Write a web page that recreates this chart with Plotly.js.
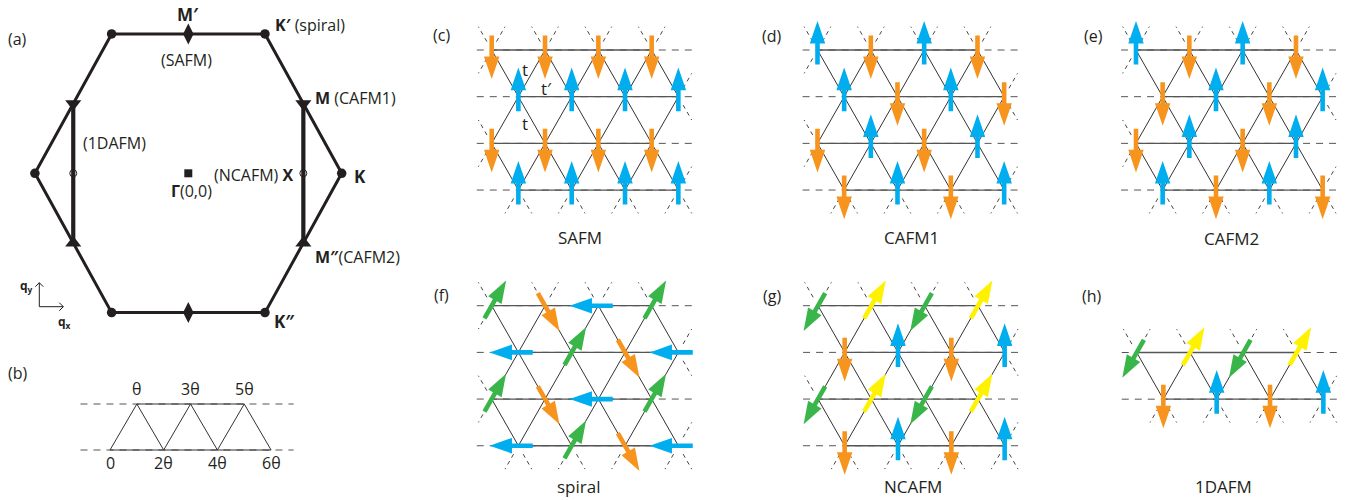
<!DOCTYPE html>
<html>
<head>
<meta charset="utf-8">
<script src="https://cdn.plot.ly/plotly-3.0.1.min.js"></script>
<style>
  html, body { margin: 0; padding: 0; background: #fff; }
  #chart { width: 1354px; height: 500px; }
</style>
</head>
<body>
<div id="chart"></div>
<script>
// ---------- (a) Brillouin zone: high-symmetry points (units of 1/a) ----------
const bzCornerX = [4.189, 2.094, -2.094, -4.189, -2.094, 2.094];   // K, K', ..., K''
const bzCornerY = [0, 3.628, 3.628, 0, -3.628, -3.628];
const bzEdgeMidX = [0, 0];                                          // M' and its partner
const bzEdgeMidY = [3.628, -3.628];
const mPointX = [3.1416, 3.1416, -3.1416, -3.1416];                 // M, M'' and mirror images
const mPointY = [1.814, -1.814, 1.814, -1.814];
const xPointX = [3.1416, -3.1416];                                  // X and mirror image
const xPointY = [0, 0];
const gammaX = [0];
const gammaY = [0];

// ---------- (b) phases along the ladder ----------
const ladderTopPhases = ['θ', '3θ', '5θ'];
const ladderBottomPhases = ['0', '2θ', '4θ', '6θ'];

// ---------- (c)-(h) spin states: one string per row, one letter per site ----------
// U up, D down, L left, N 60° (spiral), S 300° (spiral), Y 60° (yellow), W 240° (green)
const safmRows   = ['DDDD', 'UUUU', 'DDDD', 'UUUU'];
const cafm1Rows  = ['UDUD', 'UDUD', 'DUDU', 'DUDU'];
const cafm2Rows  = ['UDUD', 'DUDU', 'DUDU', 'UDUD'];
const spiralRows = ['NSLN', 'LNSL', 'NSLN', 'LNSL'];
const ncafmRows  = ['WYWY', 'DUDU', 'WYWY', 'DUDU'];
const dafmRows   = ['WYWY', 'DUDU'];

const BLUE = '#00aeef', ORANGE = '#f7941d', GREEN = '#39b54a', YELLOW = '#fff200';
const spinAngle = { U: 90, D: 270, L: 180, N: 60, S: 300, Y: 60, W: 240 };
const spinColor = { U: BLUE, D: ORANGE, L: BLUE, N: GREEN, S: ORANGE, Y: YELLOW, W: GREEN };

// ---------- page geometry ----------
const W = 1354, H = 500;
const FONT = "'Open Sans', 'Noto Sans', sans-serif";
const INK = '#231f20';
const HROW = Math.sqrt(3) / 2;          // row spacing of the triangular lattice (a = 1)
const SX = 53.33, SY = 53.9;            // pixels per lattice constant

const traces = [];
const annotations = [];
const layout = {
  width: W, height: H,
  margin: { l: 0, r: 0, t: 0, b: 0 },
  paper_bgcolor: '#fff', plot_bgcolor: 'rgba(0,0,0,0)',
  showlegend: false,
  annotations: annotations
};

function addAxes(id, ox, oy, sx, sy) {
  const sfx = id === 1 ? '' : String(id);
  layout['xaxis' + sfx] = {
    domain: [0, 1], range: [-ox / sx, (W - ox) / sx], visible: false,
    fixedrange: true, anchor: 'y' + sfx
  };
  layout['yaxis' + sfx] = {
    domain: [0, 1], range: [(oy - H) / sy, oy / sy], visible: false,
    fixedrange: true, anchor: 'x' + sfx
  };
  return { xaxis: 'x' + sfx, yaxis: 'y' + sfx };
}

function paperText(text, x, y, size, opts) {
  annotations.push(Object.assign({
    text: text, x: x / W, y: 1 - y / H, xref: 'paper', yref: 'paper',
    showarrow: false, xanchor: 'center', yanchor: 'middle',
    font: { family: FONT, size: size, color: INK }
  }, opts || {}));
}

function lineTrace(ax, xs, ys, color, width, dash) {
  traces.push({
    type: 'scatter', mode: 'lines', x: xs, y: ys, xaxis: ax.xaxis, yaxis: ax.yaxis,
    line: { color: color, width: width, dash: dash || 'solid' },
    hoverinfo: 'skip', connectgaps: false
  });
}

// ================= (a) Brillouin zone =================
const A_SX = 36.62, A_SY = 38.4;
const axA = addAxes(1, 188.3, 173.3, A_SX, A_SY);
{
  const hx = bzCornerX.concat([bzCornerX[0]]);
  const hy = bzCornerY.concat([bzCornerY[0]]);
  lineTrace(axA, hx, hy, INK, 3);
  // thick lines joining M and M'' on each side
  const vx = [], vy = [];
  for (let k = 0; k < mPointX.length; k += 2) {
    vx.push(mPointX[k], mPointX[k + 1], null);
    vy.push(mPointY[k], mPointY[k + 1], null);
  }
  lineTrace(axA, vx, vy, INK, 4.2);

  const mk = (xs, ys, symbol, size, extra) => traces.push(Object.assign({
    type: 'scatter', mode: 'markers', x: xs, y: ys, xaxis: axA.xaxis, yaxis: axA.yaxis,
    marker: { symbol: symbol, size: size, color: INK }, hoverinfo: 'skip'
  }, extra || {}));
  mk(bzCornerX, bzCornerY, 'circle', 9.5);
  mk(bzEdgeMidX, bzEdgeMidY, 'diamond-tall', 15);
  mk(mPointX.filter((_, i) => mPointY[i] > 0), mPointY.filter(v => v > 0), 'triangle-down', 14);
  mk(mPointX.filter((_, i) => mPointY[i] < 0), mPointY.filter(v => v < 0), 'triangle-up', 14);
  mk(xPointX, xPointY, 'circle-open', 7, { marker: { symbol: 'circle-open', size: 7, color: INK, line: { width: 1, color: INK } } });
  mk(gammaX, gammaY, 'square', 8);

  const lab = (text, x, y, xs, ys, xanchor, size) => annotations.push({
    text: text, x: x, y: y, xref: axA.xaxis, yref: axA.yaxis, showarrow: false,
    xanchor: xanchor || 'center', yanchor: 'middle', xshift: xs, yshift: ys,
    font: { family: FONT, size: size || 16, color: INK }
  });
  lab('<b>M′</b>', bzEdgeMidX[0], bzEdgeMidY[0], 0, 19, 'center', 17);
  lab('(SAFM)', bzEdgeMidX[0], bzEdgeMidY[0], -1.5, -26);
  lab('<b>K′</b> (spiral)', bzCornerX[1], bzCornerY[1], 8, 9, 'left');
  lab('<b>M</b> (CAFM1)', mPointX[0], mPointY[0], 10, 6, 'left');
  lab('<b>M″</b>(CAFM2)', mPointX[1], mPointY[1], 10, -14, 'left');
  lab('<b>K</b>', bzCornerX[0], bzCornerY[0], 10, -3, 'left', 17);
  lab('(NCAFM) <b>X</b>', xPointX[0], xPointY[0], -8, -2, 'right');
  lab('<b>Γ</b>(0,0)', gammaX[0], gammaY[0], -19, -18, 'left');
  lab('(1DAFM)', xPointX[1], xPointY[1], 8, 30, 'left');
  lab('<b>K″</b>', bzCornerX[5], bzCornerY[5], 7, -9, 'left', 17);

  // q_x / q_y reference axes with open arrowheads
  const cx = (39.3 - 188.3) / A_SX, cy = (173.3 - 306.7) / A_SY;
  const len = 24, hd = 4;
  const qx = [cx, cx, null, cx, cx + len / A_SX, null,
              cx - hd / A_SX, cx, cx + hd / A_SX, null,
              cx + (len - hd) / A_SX, cx + len / A_SX, cx + (len - hd) / A_SX];
  const qy = [cy, cy + len / A_SY, null, cy, cy, null,
              cy + (len - hd) / A_SY, cy + len / A_SY, cy + (len - hd) / A_SY, null,
              cy + hd / A_SY, cy, cy - hd / A_SY];
  lineTrace(axA, qx, qy, INK, 1);
  paperText('<b>q<sub>y</sub></b>', 26, 286, 12);
  paperText('<b>q<sub>x</sub></b>', 64, 322, 12);
  paperText('(a)', 17, 39, 16);
}

// ================= (b) ladder with phases =================
{
  const axB = addAxes(2, 110, 450, 53.7, 53.1);
  const nb = ladderBottomPhases.length, nt = ladderTopPhases.length;
  // dashed rails
  lineTrace(axB, [-0.55, 3.42, null, -0.55, 3.42], [0, 0, null, HROW, HROW], '#555', 1, '7px,6px');
  // solid rails
  lineTrace(axB, [0, nb - 1, null, 0.5, nt - 0.5], [0, 0, null, HROW, HROW], '#333', 1);
  // zigzag rungs
  const zx = [], zy = [];
  for (let i = 0; i < nb; i++) {
    zx.push(i); zy.push(0);
    if (i < nt) { zx.push(i + 0.5); zy.push(HROW); }
  }
  lineTrace(axB, zx, zy, '#333', 1);
  ladderTopPhases.forEach((t, i) => annotations.push({
    text: t, x: i + 0.5, y: HROW, xref: axB.xaxis, yref: axB.yaxis, showarrow: false,
    yshift: 15, font: { family: FONT, size: 16, color: INK }
  }));
  ladderBottomPhases.forEach((t, i) => annotations.push({
    text: t, x: i, y: 0, xref: axB.xaxis, yref: axB.yaxis, showarrow: false,
    yshift: -13, font: { family: FONT, size: 16, color: INK }
  }));
  paperText('(b)', 18, 373, 16);
}

// ================= (c)-(h) spin lattices =================
const lattices = [
  { id: 3, rows: safmRows,   ox: 491.7,  oy: 50,    letter: '(c)', lx: 441.7, ly: 35,  title: 'SAFM',   tx: 580,    ty: 237, bonds: true },
  { id: 4, rows: cafm1Rows,  ox: 817.5,  oy: 50,    letter: '(d)', lx: 771.7, ly: 36,  title: 'CAFM1',  tx: 911.7,  ty: 237 },
  { id: 5, rows: cafm2Rows,  ox: 1136,   oy: 50,    letter: '(e)', lx: 1093,  ly: 36,  title: 'CAFM2',  tx: 1231.7, ty: 238 },
  { id: 6, rows: spiralRows, ox: 491.7,  oy: 305.7, letter: '(f)', lx: 441.7, ly: 295, title: 'spiral', tx: 578.3,  ty: 486 },
  { id: 7, rows: ncafmRows,  ox: 818,    oy: 305.7, letter: '(g)', lx: 771.7, ly: 296, title: 'NCAFM',  tx: 913.3,  ty: 486 },
  { id: 8, rows: dafmRows,   ox: 1136.7, oy: 352.5, letter: '(h)', lx: 1092,  ly: 296, title: '1DAFM',  tx: 1223.3, ty: 486 }
];

const ARROW_BACK = 0.27, ARROW_FWD = 0.54;   // tail / tip distance from the site
const SHAFT_HALF = 0.043, HEAD_HALF = 0.145, HEAD_LEN = 0.42;

function arrowPolygon(cx, cy, deg, xs, ys) {
  const t = deg * Math.PI / 180;
  const ux = Math.cos(t), uy = Math.sin(t), nx = -uy, ny = ux;
  const tx0 = cx - ARROW_BACK * ux, ty0 = cy - ARROW_BACK * uy;
  const px = cx + ARROW_FWD * ux, py = cy + ARROW_FWD * uy;
  const kx = px - HEAD_LEN * ux, ky = py - HEAD_LEN * uy;
  const pts = [
    [tx0 + SHAFT_HALF * nx, ty0 + SHAFT_HALF * ny],
    [kx + SHAFT_HALF * nx, ky + SHAFT_HALF * ny],
    [kx + HEAD_HALF * nx, ky + HEAD_HALF * ny],
    [px, py],
    [kx - HEAD_HALF * nx, ky - HEAD_HALF * ny],
    [kx - SHAFT_HALF * nx, ky - SHAFT_HALF * ny],
    [tx0 - SHAFT_HALF * nx, ty0 - SHAFT_HALF * ny]
  ];
  pts.forEach(p => { xs.push(p[0]); ys.push(p[1]); });
  xs.push(pts[0][0], null); ys.push(pts[0][1], null);
}

lattices.forEach(p => {
  const ax = addAxes(p.id, p.ox, p.oy, SX, SY);
  const R = p.rows.length;
  const N = p.rows[0].length;
  const siteX = (r, i) => i + (r % 2) * 0.5;
  const siteY = r => -r * HROW;
  const exists = (r, x) => {
    if (r < 0 || r >= R) return false;
    const i = x - (r % 2) * 0.5;
    return Math.abs(i - Math.round(i)) < 1e-6 && i > -1e-6 && i < N - 1 + 1e-6;
  };

  // dashed rails across the full width, then solid bonds between end sites
  const dx = [], dy = [], sx = [], sy = [];
  for (let r = 0; r < R; r++) {
    dx.push(-0.28, 3.84, null); dy.push(siteY(r), siteY(r), null);
    sx.push(siteX(r, 0), siteX(r, N - 1), null); sy.push(siteY(r), siteY(r), null);
  }
  lineTrace(ax, dx, dy, '#555', 1, '7px,6px');
  lineTrace(ax, sx, sy, '#555', 1.3);

  // diagonal bonds between neighbouring rows, dashed stubs where the lattice continues
  const bx = [], by = [], tx = [], ty = [];
  for (let r = 0; r < R; r++) {
    for (let i = 0; i < N; i++) {
      const x0 = siteX(r, i), y0 = siteY(r);
      [-1, 1].forEach(dr => [-0.5, 0.5].forEach(ddx => {
        const nxp = x0 + ddx, nr = r + dr;
        const ddy = -dr * HROW;
        if (exists(nr, nxp)) {
          if (dr === 1) { bx.push(x0, nxp, null); by.push(y0, y0 + ddy, null); }
        } else {
          tx.push(x0 + 0.18 * ddx, x0 + 0.5 * ddx, null);
          ty.push(y0 + 0.18 * ddy, y0 + 0.5 * ddy, null);
        }
      }));
    }
  }
  lineTrace(ax, bx, by, '#333', 1);
  lineTrace(ax, tx, ty, '#444', 1, '4px,4px');

  // spin arrows, one filled trace per colour
  const groups = {};
  p.rows.forEach((row, r) => row.split('').forEach((s, i) => {
    const c = spinColor[s];
    if (!groups[c]) groups[c] = { x: [], y: [] };
    arrowPolygon(siteX(r, i), siteY(r), spinAngle[s], groups[c].x, groups[c].y);
  }));
  Object.keys(groups).forEach(c => traces.push({
    type: 'scatter', mode: 'lines', x: groups[c].x, y: groups[c].y,
    xaxis: ax.xaxis, yaxis: ax.yaxis, fill: 'toself', fillcolor: c,
    line: { width: 0, color: c }, hoverinfo: 'skip'
  }));

  if (p.bonds) {
    const bl = (t, x, y) => annotations.push({
      text: t, x: x, y: y, xref: ax.xaxis, yref: ax.yaxis, showarrow: false,
      font: { family: FONT, size: 17, color: INK }
    });
    bl('t', 0.62, -0.36);
    bl('t′', 1.03, -0.71);
    bl('t', 0.62, -1.36);
  }
  paperText(p.letter, p.lx, p.ly, 16);
  paperText(p.title, p.tx, p.ty, 17);
});

Plotly.newPlot('chart', traces, layout, { staticPlot: true, displayModeBar: false });
</script>
</body>
</html>
